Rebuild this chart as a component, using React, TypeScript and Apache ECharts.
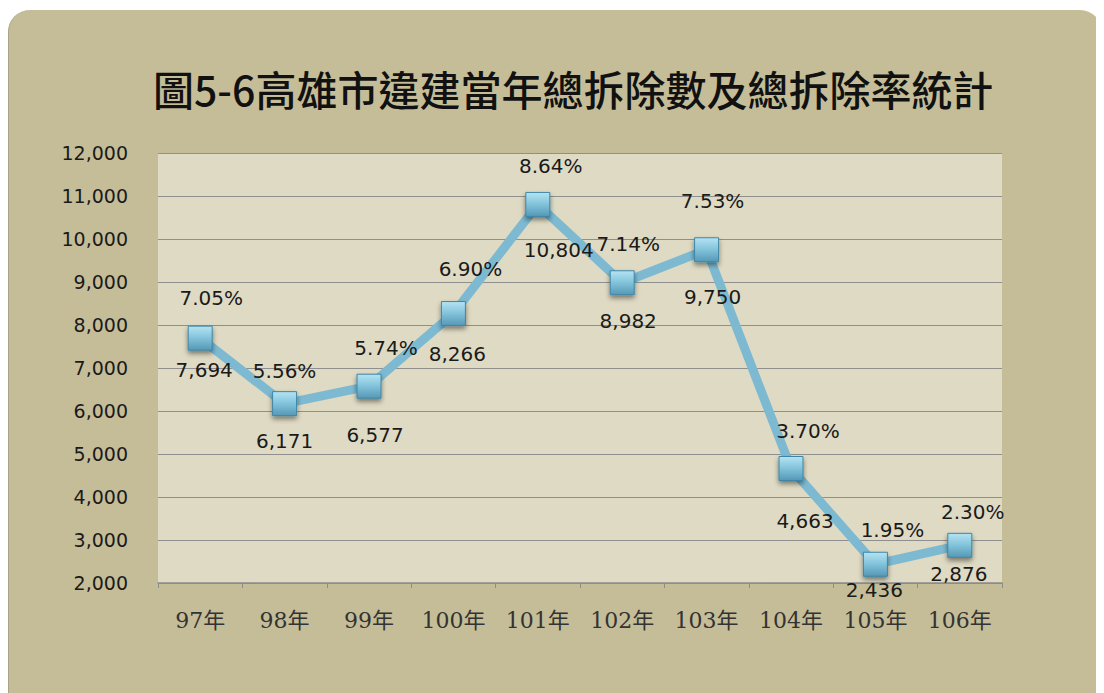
import React, { useEffect, useRef } from "react";
import * as echarts from "echarts";

const titleText = "圖5-6高雄市違建當年總拆除數及總拆除率統計";
const categories = ["97年", "98年", "99年", "100年", "101年", "102年", "103年", "104年", "105年", "106年"];
const demolished = [7694, 6171, 6577, 8266, 10804, 8982, 9750, 4663, 2436, 2876];
const demolishRate = [7.05, 5.56, 5.74, 6.9, 8.64, 7.14, 7.53, 3.7, 1.95, 2.3];
const yMin = 2000;
const yMax = 12000;
const yInterval = 1000;

// label placement tweaks (pixels, relative to each marker centre)
const valueLabelOffsets = [[4, 32], [0, 37], [6, 49], [4, 40], [21, 46], [6, 38], [6, 47], [14, 53], [-1, 26], [-1, 29]];
const rateLabelOffsets = [[11, -40], [0, -33], [17, -38], [17, -45], [13, -38], [6, -39], [6, -49], [17, -37], [17, -34], [13, -33]];

export default function App() {
  const ref = useRef<HTMLDivElement>(null);
  useEffect(() => {
    if (!ref.current) return;
    const chart = echarts.init(ref.current, undefined, { renderer: "svg" });
    const markerFill = new echarts.graphic.LinearGradient(0, 0, 0, 1, [
      { offset: 0, color: "#B5E3F2" },
      { offset: 0.45, color: "#86C6DD" },
      { offset: 1, color: "#5598B6" },
    ]);
    const labelFont = {
      fontFamily: "'DejaVu Sans', sans-serif",
      fontSize: 20,
      color: "#1a1a1a",
    };
    chart.setOption({
      animation: false,
      backgroundColor: "transparent",
      title: {
        text: titleText,
        left: 139,
        top: 52,
        textStyle: {
          fontFamily: "'Noto Sans CJK TC', sans-serif",
          fontSize: 41,
          fontWeight: 500,
          color: "#111",
        },
      },
      grid: { left: 149, top: 143, width: 844, height: 430, containLabel: false, show: true, backgroundColor: "#DFDAC3", borderWidth: 0 },
      xAxis: {
        type: "category",
        data: categories,
        boundaryGap: true,
        axisLine: { show: true, lineStyle: { color: "#8C8C8C", width: 1.5 } },
        axisTick: { show: true, length: 5, lineStyle: { color: "#8C8C8C" } },
        axisLabel: {
          fontFamily: "'DejaVu Serif', 'Noto Sans CJK TC', serif",
          fontSize: 22,
          color: "#333",
          margin: 26,
        },
      },
      yAxis: {
        type: "value",
        min: yMin,
        max: yMax,
        interval: yInterval,
        axisLine: { show: false },
        axisTick: { show: false },
        splitLine: { show: true, lineStyle: { color: "#8F8F8F", width: 1.2 } },
        axisLabel: {
          fontFamily: "'DejaVu Sans', sans-serif",
          fontSize: 19,
          color: "#1a1a1a",
          margin: 30,
          formatter: (v: number) => v.toLocaleString("en-US"),
        },
      },
      series: [
        {
          type: "line",
          data: demolished.map((v, i) => ({
            value: v,
            label: { offset: valueLabelOffsets[i] },
          })),
          symbol: "rect",
          symbolSize: 24,
          lineStyle: { color: "#7DBAD2", width: 9 },
          itemStyle: {
            color: markerFill,
            borderColor: "#3E86A6",
            borderWidth: 1,
            shadowColor: "rgba(0,0,0,0.45)",
            shadowBlur: 5,
            shadowOffsetY: 3,
          },
          label: {
            show: true,
            position: "inside",
            ...labelFont,
            formatter: (p: any) => Number(p.value).toLocaleString("en-US"),
          },
          z: 3,
        },
        {
          type: "scatter",
          data: demolished.map((v, i) => ({
            value: v,
            label: { offset: rateLabelOffsets[i] },
          })),
          symbol: "circle",
          symbolSize: 1,
          itemStyle: { color: "rgba(0,0,0,0)", opacity: 1 },
          label: {
            show: true,
            position: "inside",
            ...labelFont,
            formatter: (p: any) => demolishRate[p.dataIndex].toFixed(2) + "%",
          },
          z: 4,
        },
      ],
    });
    return () => chart.dispose();
  }, []);
  return (
    <div
      style={{
        marginTop: 2,
        width: 1094,
        height: 690,
        background: "#C5BD98",
        borderRadius: "22px 22px 0 0",
        borderLeft: "1px solid #A9A38A",
        boxSizing: "border-box",
        overflow: "hidden",
      }}
    >
      <div ref={ref} style={{ width: 1093, height: 690 }} />
    </div>
  );
}
